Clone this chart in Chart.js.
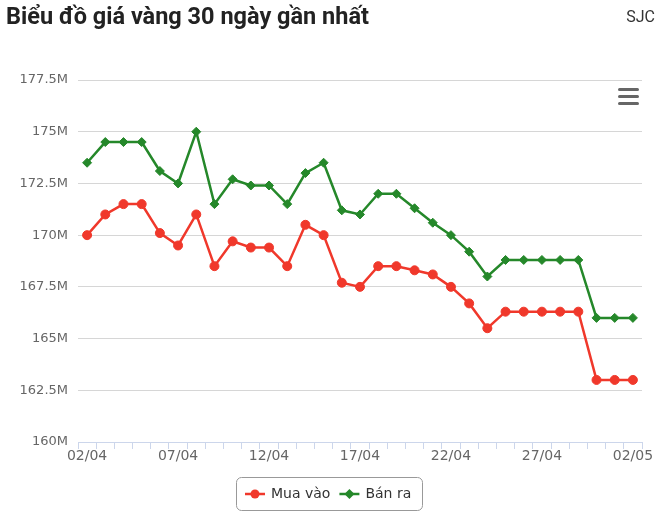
<!DOCTYPE html>
<html><head><meta charset="utf-8">
<script src="https://cdn.jsdelivr.net/npm/chart.js@4/dist/chart.umd.min.js"></script>
<style>
html,body{margin:0;padding:0;background:#fff;}
#wrap{position:relative;width:661px;height:522px;}
#title{position:absolute;left:6px;top:2px;font-family:Roboto,sans-serif;font-weight:bold;font-size:23.5px;color:#222;white-space:nowrap;}
#src{position:absolute;right:6px;top:7px;font-family:Roboto,sans-serif;font-size:16px;color:#333;}
canvas{position:absolute;left:0;top:0;}
</style></head>
<body><div id="wrap"><canvas id="c" width="661" height="522"></canvas>
<div id="title">Biểu đồ giá vàng 30 ngày gần nhất</div><div id="src">SJC</div></div>
<script>
const dates = ["02/04","03/04","04/04","05/04","06/04","07/04","08/04","09/04","10/04","11/04","12/04","13/04","14/04","15/04","16/04","17/04","18/04","19/04","20/04","21/04","22/04","23/04","24/04","25/04","26/04","27/04","28/04","29/04","30/04","01/05","02/05"];
const muaVao = [170.0,171.0,171.5,171.5,170.1,169.5,171.0,168.5,169.7,169.4,169.4,168.5,170.5,170.0,167.7,167.5,168.5,168.5,168.3,168.1,167.5,166.7,165.5,166.3,166.3,166.3,166.3,166.3,163.0,163.0,163.0];
const banRa = [173.5,174.5,174.5,174.5,173.1,172.5,175.0,171.5,172.7,172.4,172.4,171.5,173.0,173.5,171.2,171.0,172.0,172.0,171.3,170.6,170.0,169.2,168.0,168.8,168.8,168.8,168.8,168.8,166.0,166.0,166.0];
const seriesNames = ["Mua vào","Bán ra"];
const RED = '#f0382b', GREEN = '#25882a';
const FONT = 'DejaVu Sans';

const legendPlugin = {
  id:'boxLegend',
  afterDraw(chart){
    const ctx = chart.ctx;
    ctx.save();
    ctx.strokeStyle='#999';ctx.lineWidth=1;
    ctx.beginPath();ctx.roundRect(236.5,477.5,186,33,5);ctx.stroke();
    const cy=494;
    const items=[{c:RED,shape:'circle',label:seriesNames[0]},{c:GREEN,shape:'diamond',label:seriesNames[1]}];
    ctx.font='14px '+FONT;ctx.textBaseline='middle';
    let cx=245;
    items.forEach((it)=>{
      ctx.strokeStyle=it.c;ctx.lineWidth=2.5;
      ctx.beginPath();ctx.moveTo(cx,cy);ctx.lineTo(cx+20,cy);ctx.stroke();
      ctx.fillStyle=it.c;ctx.beginPath();
      if(it.shape==='circle'){ctx.arc(cx+10,cy,4.5,0,Math.PI*2);}
      else{ctx.moveTo(cx+10,cy-5);ctx.lineTo(cx+15,cy);ctx.lineTo(cx+10,cy+5);ctx.lineTo(cx+5,cy);ctx.closePath();}
      ctx.fill();
      ctx.fillStyle='#333';ctx.fillText(it.label,cx+26,cy);
      cx = cx+26+ctx.measureText(it.label).width+9;
    });
    ctx.fillStyle='#666';
    for(let k=0;k<3;k++){ctx.beginPath();ctx.roundRect(618,88+k*7,21,3,1.5);ctx.fill();}
    ctx.restore();
  }
};

new Chart(document.getElementById('c'),{
  type:'line',
  data:{labels:dates,datasets:[
    {label:seriesNames[0],data:muaVao.map(v=>v*1e6),borderColor:RED,backgroundColor:RED,borderWidth:2.5,pointStyle:'circle',pointRadius:4.5,pointBorderWidth:1,pointHoverRadius:4.5,tension:0},
    {label:seriesNames[1],data:banRa.map(v=>v*1e6),borderColor:GREEN,backgroundColor:GREEN,borderWidth:2.5,pointStyle:'rectRot',pointRadius:4.5,pointBorderWidth:1,pointHoverRadius:4.5,tension:0}
  ]},
  options:{
    responsive:false,animation:false,
    layout:{padding:{left:0,right:19,top:80,bottom:59}},
    plugins:{legend:{display:false},tooltip:{enabled:false}},
    scales:{
      x:{offset:true,
        grid:{offset:true,drawOnChartArea:false,drawTicks:true,tickLength:7,color:'#ccd6eb'},
        border:{color:'#ccd6eb'},
        ticks:{autoSkip:false,maxRotation:0,padding:-1,color:'#666',font:{family:FONT,size:14},
          callback:(v,i)=> i%5===0 ? dates[i] : ''},
        afterFit:s=>{s.height=21;}
      },
      y:{min:160e6,max:177.5e6,
        grid:{color:'#d6d6d6',lineWidth:1,drawTicks:false},
        border:{display:false},
        ticks:{stepSize:2.5e6,padding:10,color:'#666',font:{family:FONT,size:13},
          callback:v=>(v/1e6)+'M'},
        afterFit:s=>{s.width=78;}
      }
    }
  },
  plugins:[legendPlugin]
});
</script></body></html>
